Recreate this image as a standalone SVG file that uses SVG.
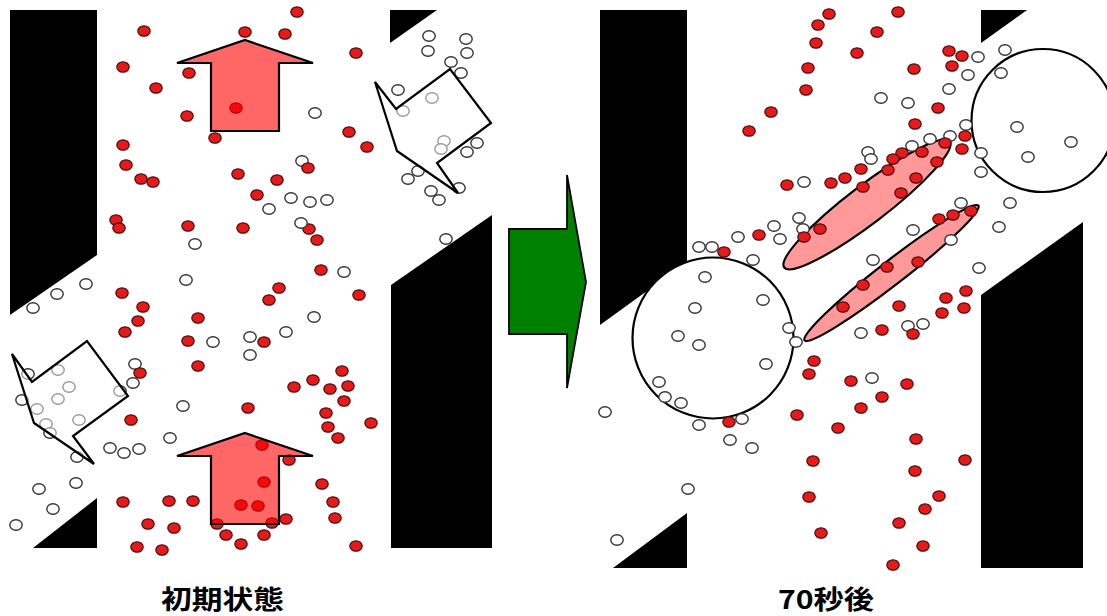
<svg xmlns="http://www.w3.org/2000/svg" xmlns:xlink="http://www.w3.org/1999/xlink" width="1107" height="616" viewBox="0 0 1107 616">
<style>
.blk{fill:#000;stroke:none}
.ra{fill:#ff0000;fill-opacity:0.6;stroke:#000;stroke-width:2.2;stroke-linejoin:miter}
.wa{fill:#fff;fill-opacity:0.5;stroke:#000;stroke-width:2.2;stroke-linejoin:miter}
.cir{fill:#fff;stroke:#000;stroke-width:2.2}
.ell{fill:#ff9999;stroke:#000;stroke-width:2.2}
.lbl{font-family:"Noto Sans CJK JP","Noto Sans CJK SC",sans-serif;font-weight:bold;font-size:26px;fill:#000}
</style>
<defs>
<ellipse id="r" cx="0" cy="0" rx="6.2" ry="5.2" fill="#e51b1b" stroke="#4a0c0c" stroke-width="1.2"/>
<ellipse id="w" cx="0" cy="0" rx="6.2" ry="5.2" fill="#fff" stroke="#333" stroke-width="1.4"/>
</defs>
<rect width="1107" height="616" fill="#fff"/>

<g id="panel-left">
<polygon class="blk" points="10,10 97,10 97,255 10,315"/>
<polygon class="blk" points="33,548 97,498 97,548"/>
<polygon class="blk" points="390,10 437,10 390,43"/>
<polygon class="blk" points="391,285 492,215 492,548 391,548"/>
<g id="dots-left-red">
<use href="#r" x="144" y="31"/><use href="#r" x="245" y="32"/><use href="#r" x="297" y="12"/><use href="#r" x="285" y="34"/><use href="#r" x="356" y="53"/><use href="#r" x="123" y="67"/><use href="#r" x="189" y="73"/><use href="#r" x="156" y="88"/><use href="#r" x="187" y="116"/><use href="#r" x="236" y="108"/><use href="#r" x="215" y="138"/><use href="#r" x="123" y="145"/><use href="#r" x="126" y="165"/><use href="#r" x="141" y="179"/><use href="#r" x="153" y="182"/><use href="#r" x="238" y="174"/><use href="#r" x="116" y="220"/><use href="#r" x="119" y="228"/><use href="#r" x="188" y="226"/><use href="#r" x="243" y="228"/><use href="#r" x="349" y="132"/><use href="#r" x="367" y="147"/><use href="#r" x="277" y="180"/><use href="#r" x="257" y="195"/><use href="#r" x="309" y="229"/><use href="#r" x="317" y="240"/><use href="#r" x="321" y="270"/>
<use href="#r" x="122" y="293"/><use href="#r" x="143" y="307"/><use href="#r" x="138" y="321"/><use href="#r" x="125" y="332"/><use href="#r" x="198" y="318"/><use href="#r" x="188" y="341"/><use href="#r" x="198" y="366"/><use href="#r" x="131" y="420"/><use href="#r" x="248" y="408"/><use href="#r" x="123" y="502"/><use href="#r" x="169" y="501"/><use href="#r" x="193" y="501"/><use href="#r" x="148" y="524"/><use href="#r" x="174" y="528"/><use href="#r" x="137" y="547"/><use href="#r" x="162" y="550"/><use href="#r" x="241" y="505"/><use href="#r" x="217" y="524"/><use href="#r" x="226" y="535"/><use href="#r" x="241" y="544"/>
<use href="#r" x="279" y="288"/><use href="#r" x="269" y="300"/><use href="#r" x="359" y="295"/><use href="#r" x="264" y="342"/><use href="#r" x="294" y="387"/><use href="#r" x="313" y="380"/><use href="#r" x="342" y="371"/><use href="#r" x="330" y="389"/><use href="#r" x="348" y="386"/><use href="#r" x="344" y="401"/><use href="#r" x="326" y="413"/><use href="#r" x="328" y="427"/><use href="#r" x="338" y="438"/><use href="#r" x="371" y="423"/><use href="#r" x="262" y="445"/><use href="#r" x="289" y="460"/><use href="#r" x="264" y="482"/><use href="#r" x="258" y="506"/><use href="#r" x="272" y="523"/><use href="#r" x="286" y="519"/><use href="#r" x="264" y="535"/><use href="#r" x="322" y="484"/><use href="#r" x="333" y="502"/><use href="#r" x="335" y="518"/><use href="#r" x="356" y="546"/>
</g>
<g id="dots-left-white">
<use href="#w" x="195" y="244"/><use href="#w" x="186" y="280"/><use href="#w" x="86" y="284"/><use href="#w" x="429" y="36"/><use href="#w" x="428" y="51"/><use href="#w" x="466" y="39"/><use href="#w" x="467" y="53"/><use href="#w" x="451" y="62"/><use href="#w" x="461" y="73"/><use href="#w" x="398" y="90"/><use href="#w" x="432" y="98"/><use href="#w" x="403" y="111"/><use href="#w" x="315" y="113"/><use href="#w" x="444" y="141"/><use href="#w" x="441" y="149"/><use href="#w" x="477" y="143"/><use href="#w" x="467" y="152"/><use href="#w" x="302" y="161"/><use href="#w" x="418" y="171"/><use href="#w" x="408" y="179"/><use href="#w" x="459" y="188"/><use href="#w" x="431" y="191"/><use href="#w" x="439" y="200"/><use href="#w" x="291" y="198"/><use href="#w" x="310" y="202"/><use href="#w" x="327" y="200"/><use href="#w" x="269" y="209"/><use href="#w" x="301" y="223"/><use href="#w" x="446" y="239"/><use href="#w" x="344" y="272"/>
<use href="#w" x="57" y="294"/><use href="#w" x="33" y="308"/><use href="#w" x="213" y="342"/><use href="#w" x="250" y="337"/><use href="#w" x="250" y="355"/><use href="#w" x="28" y="374"/><use href="#w" x="58" y="370"/><use href="#w" x="69" y="387"/><use href="#w" x="58" y="399"/><use href="#w" x="22" y="400"/><use href="#w" x="37" y="409"/><use href="#w" x="46" y="424"/><use href="#w" x="50" y="433"/><use href="#w" x="79" y="420"/><use href="#w" x="120" y="391"/><use href="#w" x="135" y="364"/><use href="#w" x="133" y="383"/><use href="#w" x="183" y="406"/><use href="#w" x="170" y="438"/><use href="#w" x="110" y="448"/><use href="#w" x="124" y="453"/><use href="#w" x="139" y="449"/><use href="#w" x="77" y="457"/><use href="#w" x="76" y="483"/><use href="#w" x="39" y="489"/><use href="#w" x="53" y="509"/><use href="#w" x="16" y="525"/><use href="#w" x="314" y="317"/><use href="#w" x="286" y="332"/>
</g>
<use href="#r" x="308" y="168"/><use href="#r" x="140" y="373"/>
<polygon id="arrow-up-top" class="ra" points="245,40 313,63 279,63 279,131 211,131 211,63 177,63"/>
<polygon id="arrow-up-bottom" class="ra" points="245,433 313,456 279,456 279,524 211,524 211,456 177,456"/>
<polygon id="arrow-white-top" class="wa" points="375,82 396,109 450,69 491,123 437,163 458,193 397,151"/>
<polygon id="arrow-white-bottom" class="wa" points="12,354 32,382 87,341 128,396 73,436 94,464 34,423"/>
</g>

<g id="arrow-green">
<polygon points="509,229 567,229 567,175 586,282 567,388 567,334 509,334" fill="#008000" stroke="#000" stroke-width="1.8"/>
</g>

<g id="panel-right">
<polygon class="blk" points="600,10 687,10 687,262 600,325"/>
<polygon class="blk" points="613,568 687,513 687,568"/>
<polygon class="blk" points="981,10 1027,10 981,43"/>
<polygon class="blk" points="981,295 1083,222 1083,568 981,568"/>
<circle id="circle-left" class="cir" cx="713" cy="338" r="80.5"/>
<circle id="circle-right" class="cir" cx="1043" cy="120.5" r="71.5"/>
<ellipse id="ellipse-upper" class="ell" cx="867" cy="204.5" rx="104" ry="19" transform="rotate(-37.3 867 204.5)"/>
<ellipse id="ellipse-lower" class="ell" cx="891.5" cy="273" rx="110" ry="12" transform="rotate(-37.8 891.5 273)"/>
<g id="dots-right-white">
<use href="#w" x="804" y="182"/><use href="#w" x="774" y="226"/><use href="#w" x="780" y="239"/><use href="#w" x="799" y="218"/><use href="#w" x="803" y="229"/><use href="#w" x="738" y="237"/><use href="#w" x="699" y="247"/><use href="#w" x="712" y="247"/><use href="#w" x="753" y="260"/><use href="#w" x="705" y="277"/>
<use href="#w" x="1005" y="50"/><use href="#w" x="978" y="57"/><use href="#w" x="968" y="75"/><use href="#w" x="1001" y="73"/><use href="#w" x="949" y="89"/><use href="#w" x="881" y="98"/><use href="#w" x="908" y="103"/><use href="#w" x="966" y="125"/><use href="#w" x="950" y="136"/><use href="#w" x="930" y="139"/><use href="#w" x="912" y="146"/><use href="#w" x="868" y="152"/><use href="#w" x="871" y="159"/><use href="#w" x="1017" y="127"/><use href="#w" x="1071" y="142"/><use href="#w" x="1028" y="157"/><use href="#w" x="981" y="153"/><use href="#w" x="981" y="172"/><use href="#w" x="1010" y="203"/><use href="#w" x="961" y="203"/><use href="#w" x="999" y="227"/><use href="#w" x="913" y="230"/><use href="#w" x="951" y="240"/><use href="#w" x="873" y="260"/><use href="#w" x="979" y="268"/>
<use href="#w" x="763" y="300"/><use href="#w" x="695" y="308"/><use href="#w" x="678" y="336"/><use href="#w" x="699" y="345"/><use href="#w" x="789" y="328"/><use href="#w" x="796" y="342"/><use href="#w" x="766" y="364"/><use href="#w" x="659" y="382"/><use href="#w" x="665" y="397"/><use href="#w" x="681" y="403"/><use href="#w" x="605" y="412"/><use href="#w" x="699" y="425"/><use href="#w" x="742" y="419"/><use href="#w" x="730" y="440"/><use href="#w" x="752" y="448"/><use href="#w" x="688" y="489"/><use href="#w" x="617" y="540"/>
<use href="#w" x="861" y="333"/><use href="#w" x="908" y="326"/><use href="#w" x="923" y="324"/><use href="#w" x="872" y="378"/>
</g>
<g id="dots-right-red">
<use href="#r" x="829" y="14"/><use href="#r" x="818" y="25"/><use href="#r" x="816" y="43"/><use href="#r" x="808" y="68"/><use href="#r" x="806" y="90"/><use href="#r" x="771" y="112"/><use href="#r" x="749" y="131"/><use href="#r" x="787" y="185"/><use href="#r" x="831" y="183"/><use href="#r" x="845" y="178"/><use href="#r" x="759" y="235"/><use href="#r" x="724" y="252"/><use href="#r" x="804" y="237"/><use href="#r" x="820" y="229"/>
<use href="#r" x="898" y="12"/><use href="#r" x="877" y="32"/><use href="#r" x="857" y="53"/><use href="#r" x="949" y="51"/><use href="#r" x="962" y="56"/><use href="#r" x="952" y="66"/><use href="#r" x="914" y="69"/><use href="#r" x="938" y="108"/><use href="#r" x="915" y="124"/><use href="#r" x="965" y="136"/><use href="#r" x="962" y="149"/><use href="#r" x="945" y="143"/><use href="#r" x="922" y="152"/><use href="#r" x="902" y="153"/><use href="#r" x="893" y="159"/><use href="#r" x="937" y="162"/><use href="#r" x="888" y="170"/><use href="#r" x="861" y="169"/><use href="#r" x="916" y="178"/><use href="#r" x="863" y="187"/><use href="#r" x="901" y="193"/><use href="#r" x="971" y="211"/><use href="#r" x="953" y="215"/><use href="#r" x="939" y="219"/><use href="#r" x="887" y="267"/><use href="#r" x="918" y="262"/>
<use href="#r" x="843" y="307"/><use href="#r" x="814" y="361"/><use href="#r" x="809" y="374"/><use href="#r" x="729" y="422"/><use href="#r" x="797" y="415"/><use href="#r" x="838" y="428"/><use href="#r" x="813" y="461"/><use href="#r" x="809" y="497"/><use href="#r" x="821" y="533"/><use href="#r" x="851" y="381"/>
<use href="#r" x="863" y="285"/><use href="#r" x="899" y="306"/><use href="#r" x="946" y="298"/><use href="#r" x="966" y="291"/><use href="#r" x="942" y="313"/><use href="#r" x="964" y="308"/><use href="#r" x="882" y="330"/><use href="#r" x="913" y="334"/><use href="#r" x="907" y="384"/><use href="#r" x="882" y="397"/><use href="#r" x="861" y="408"/><use href="#r" x="916" y="439"/><use href="#r" x="965" y="460"/><use href="#r" x="915" y="471"/><use href="#r" x="939" y="496"/><use href="#r" x="925" y="509"/><use href="#r" x="899" y="523"/><use href="#r" x="923" y="546"/><use href="#r" x="893" y="565"/>
</g>
</g>

<g id="labels">
<text class="lbl" x="161" y="609" textLength="123" lengthAdjust="spacingAndGlyphs">初期状態</text>
<text class="lbl" x="778" y="609" textLength="96" lengthAdjust="spacingAndGlyphs">70秒後</text>
</g>
</svg>
